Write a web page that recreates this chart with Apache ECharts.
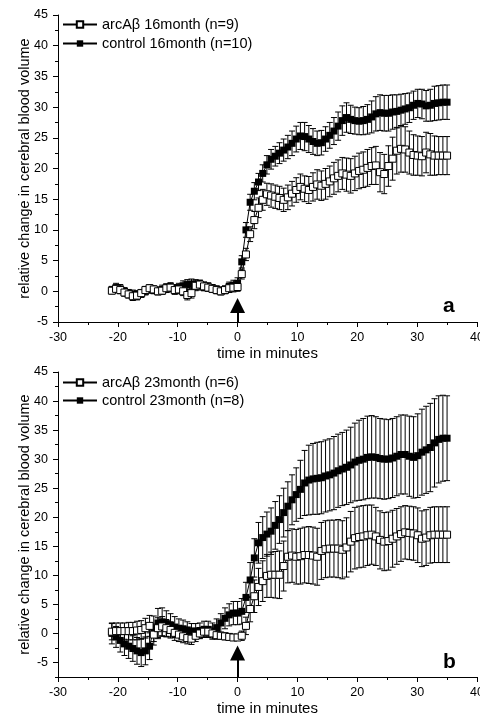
<!DOCTYPE html>
<html><head><meta charset="utf-8">
<script src="https://cdn.jsdelivr.net/npm/echarts@6/dist/echarts.min.js"></script>
<style>html,body{margin:0;padding:0;background:#fff;} #wrap{width:480px;height:717px;overflow:hidden;} #chart{width:487px;height:717px;}</style>
</head><body><div id="wrap"><div id="chart"></div></div>
<script>
// time points (minutes)
const time = [-21,-20.3,-19.6,-18.9,-18.2,-17.5,-16.8,-16.1,-15.4,-14.7,
 -14,-13.3,-12.6,-11.9,-11.2,-10.5,-9.8,-9.1,-8.4,-7.7,
 -7,-6.3,-5.6,-4.9,-4.2,-3.5,-2.8,-2.1,-1.4,-0.7,
 0,0.7,1.4,2.1,2.8,3.5,4.2,4.9,5.6,6.3,
 7,7.7,8.4,9.1,9.8,10.5,11.2,11.9,12.6,13.3,
 14,14.7,15.4,16.1,16.8,17.5,18.2,18.9,19.6,20.3,
 21,21.7,22.4,23.1,23.8,24.5,25.2,25.9,26.6,27.3,
 28,28.7,29.4,30.1,30.8,31.5,32.2,32.9,33.6,34.3,
 35];

// panel a: 16 month
const ctlA = [0.2,0.6,0.4,0.0,-0.3,-0.5,-0.6,-0.4,0.0,0.3,
 0.2,0.1,0.3,0.5,0.7,0.4,0.6,0.9,1.1,1.2,
 1.1,1.0,0.8,0.7,0.5,0.3,0.1,0.3,0.8,1.0,
 1.3,4.8,10.0,14.5,16.3,17.8,19.2,20.6,21.5,22.0,
 22.5,23.0,23.5,24.1,24.8,25.3,25.2,24.8,24.4,24.1,
 24.2,24.8,25.4,26.1,26.9,27.8,28.3,28.0,27.8,27.7,
 27.8,28.0,28.4,28.9,29.1,29.0,29.0,29.2,29.3,29.5,
 29.7,29.9,30.3,30.6,30.5,30.2,30.3,30.6,30.7,30.8,
 30.8];
const ctlAErr = [0.6,0.7,0.7,0.6,0.6,0.7,0.7,0.6,0.6,0.6,
 0.6,0.6,0.7,0.7,0.7,0.7,0.7,0.8,0.8,0.8,
 0.8,0.8,0.7,0.7,0.6,0.6,0.6,0.6,0.7,0.8,
 0.9,1.0,1.2,1.3,1.4,1.4,1.4,1.5,1.6,1.6,
 1.7,1.8,1.9,2.0,2.1,2.2,2.3,2.2,2.1,2.0,
 2.0,2.0,2.1,2.2,2.3,2.4,2.4,2.3,2.2,2.2,
 2.3,2.4,2.6,2.8,2.9,2.9,2.9,2.8,2.7,2.6,
 2.5,2.4,2.3,2.3,2.4,2.5,2.6,2.8,2.8,2.8,
 2.8];
const arcA = [0.1,0.4,0.2,-0.2,-0.5,-0.8,-0.7,-0.3,0.2,0.5,
 0.3,0.0,0.1,0.5,0.6,0.2,0.3,0.0,-0.6,-0.3,
 0.9,1.1,0.8,0.6,0.4,0.2,0.0,0.2,0.5,0.6,
 0.7,2.8,6.0,9.3,11.6,13.6,14.9,15.8,15.6,15.4,
 15.2,14.9,15.3,15.9,16.5,17.0,16.7,16.5,17.0,17.4,
 17.2,17.5,17.9,18.4,18.8,19.2,19.0,18.8,19.2,19.6,
 19.8,20.1,20.4,20.5,19.4,19.1,20.4,21.6,22.9,23.2,
 23.1,22.6,22.2,22.1,22.0,22.6,22.3,22.1,22.1,22.1,
 22.1];
const arcAErr = [0.5,0.6,0.6,0.6,0.6,0.7,0.7,0.6,0.6,0.6,
 0.6,0.6,0.6,0.7,0.7,0.7,0.7,0.7,0.8,0.8,
 0.8,0.7,0.7,0.6,0.6,0.6,0.6,0.6,0.7,0.7,
 0.7,0.8,1.0,1.2,1.4,1.6,1.7,1.8,1.9,1.9,
 1.9,1.9,2.0,2.0,2.0,2.1,2.1,2.2,2.3,2.4,
 2.4,2.5,2.5,2.6,2.6,2.6,2.7,2.8,2.8,2.9,
 2.9,3.0,3.0,3.1,3.2,3.2,3.3,3.5,3.8,3.8,
 3.7,3.5,3.3,3.2,3.2,3.3,3.4,3.2,3.1,3.1,
 3.1];

// panel b: 23 month
const ctlB = [0.0,-0.6,-1.2,-1.8,-2.2,-2.6,-3.0,-3.3,-3.0,-2.2,
 0.8,1.8,2.0,1.7,1.4,1.1,0.9,0.8,0.6,0.4,
 0.4,0.5,0.7,0.7,0.4,1.0,1.8,2.6,3.2,3.5,
 3.5,3.8,6.2,9.2,13.0,15.6,16.5,17.1,17.6,18.6,
 19.6,20.8,21.9,23.0,23.9,24.8,25.9,26.4,26.6,26.7,
 26.8,27.1,27.3,27.6,28.0,28.3,28.6,29.0,29.5,29.8,
 30.0,30.3,30.4,30.3,30.1,30.0,30.0,30.2,30.5,30.8,
 30.8,30.5,30.3,30.6,31.2,31.6,32.0,32.8,33.4,33.6,
 33.6];
const ctlBErr = [1.8,1.8,2.0,2.0,2.1,2.2,2.3,2.4,2.4,2.3,
 2.2,2.5,2.4,2.2,2.0,1.8,1.6,1.5,1.4,1.3,
 1.3,1.3,1.4,1.4,1.4,1.5,1.6,1.8,1.9,2.0,
 2.0,2.2,2.6,3.0,3.3,3.5,3.6,3.8,4.0,4.1,
 4.1,4.2,4.2,4.3,4.6,5.0,5.6,6.0,6.1,6.2,
 6.2,6.2,6.2,6.3,6.3,6.3,6.4,6.5,6.7,6.9,
 7.0,7.1,7.1,7.0,6.9,6.9,6.8,6.8,6.8,6.8,
 6.8,6.9,7.0,7.2,7.4,7.5,7.6,7.6,7.5,7.4,
 7.3];
const arcB = [0.3,0.4,0.4,0.4,0.4,0.4,0.5,0.6,0.9,1.3,
 -0.2,0.9,1.2,0.9,0.6,0.1,-0.2,-0.5,-0.8,-0.9,
 -0.4,0.0,0.3,0.3,0.0,-0.3,-0.4,-0.5,-0.6,-0.7,
 -0.7,-0.4,1.3,4.2,6.4,8.0,9.0,9.9,10.1,10.1,
 10.1,11.6,13.2,13.4,13.2,13.3,13.5,13.5,13.4,13.2,
 14.2,14.5,14.6,14.6,14.6,14.4,14.8,15.8,16.4,16.6,
 16.7,16.9,17.0,16.7,16.1,15.8,15.9,16.3,16.7,17.1,
 17.4,17.3,17.2,16.9,16.3,16.5,16.9,17.0,17.0,17.0,
 17.0];
const arcBErr = [1.4,1.4,1.4,1.4,1.5,1.5,1.6,1.6,1.7,1.8,
 1.8,1.8,1.7,1.5,1.4,1.3,1.2,1.1,1.0,1.0,
 1.0,0.9,0.9,0.8,0.8,0.7,0.6,0.6,0.5,0.5,
 0.5,0.8,1.5,2.2,2.8,3.2,3.5,3.7,3.9,4.0,
 4.1,4.3,4.5,4.6,4.7,4.8,4.8,4.9,4.9,4.9,
 4.9,4.9,4.9,4.9,5.0,5.0,5.1,5.2,5.3,5.3,
 5.3,5.2,5.1,5.0,5.0,5.0,5.0,4.9,4.8,4.7,
 4.6,4.6,4.6,4.7,4.8,4.8,4.8,4.8,4.8,4.8,
 4.8];

const namesA = ['arcA\u03b2 16month (n=9)', 'control 16month (n=10)'];
const namesB = ['arcA\u03b2 23month (n=6)', 'control 23month (n=8)'];
const xTicks = [-30,-20,-10,0,10,20,30,40];
const yTicks = [-5,0,5,10,15,20,25,30,35,40,45];
const panelLetters = ['a','b'];

const FONT = 'Liberation Sans, Arial, sans-serif';
const chart = echarts.init(document.getElementById('chart'), null, {renderer:'canvas'});

function errRender(params, api){
  const x = api.value(0), lo = api.value(1), hi = api.value(2);
  const pLo = api.coord([x, lo]), pHi = api.coord([x, hi]);
  const w = 3;
  const style = {stroke:'#000', lineWidth:1, fill:null};
  return {type:'group', children:[
    {type:'line', shape:{x1:pLo[0], y1:pLo[1], x2:pHi[0], y2:pHi[1]}, style},
    {type:'line', shape:{x1:pHi[0]-w, y1:pHi[1], x2:pHi[0]+w, y2:pHi[1]}, style},
    {type:'line', shape:{x1:pLo[0]-w, y1:pLo[1], x2:pLo[0]+w, y2:pLo[1]}, style}
  ]};
}

function xAxis(g){
  return {type:'value', gridIndex:g, min:-30, max:40, interval:10,
    axisLine:{show:true, onZero:false, lineStyle:{color:'#000', width:1}},
    axisTick:{show:true, length:5, lineStyle:{color:'#000'}},
    minorTick:{show:true, splitNumber:2, length:3, lineStyle:{color:'#000'}},
    splitLine:{show:false},
    axisLabel:{color:'#000', fontSize:12.5, margin:9, fontFamily:FONT, customValues:xTicks},
    name:'time in minutes', nameLocation:'middle', nameGap:24, nameMoveOverlap:false,
    nameTextStyle:{fontSize:15, color:'#000', fontFamily:FONT}};
}
const yName = 'relative change in cerebral blood volume';

function errSeries(g, yi, v, e){
  return {type:'custom', xAxisIndex:g, yAxisIndex:yi, renderItem:errRender, silent:true,
    data: time.map((t,i)=>[t, v[i]-e[i], v[i]+e[i]]), encode:{x:0, y:[1,2]}, z:1};
}
function lineSeries(g, yi, name, v, open){
  return {type:'line', name, xAxisIndex:g, yAxisIndex:yi, data: time.map((t,i)=>[t, v[i]]),
    symbol:'rect', symbolSize:7, showAllSymbol:true, silent:true,
    lineStyle:{color:'#000', width:1},
    itemStyle: open ? {color:'#fff', borderColor:'#000', borderWidth:1} : {color:'#000', borderColor:'#000', borderWidth:0},
    z: open ? 4 : 3};
}
function arrow(tipCenter, base){
  return {silent:true, symbol:['none','triangle'], symbolSize:15, animation:false,
    lineStyle:{color:'#000', width:2, type:'solid'}, label:{show:false},
    data:[[{coord:[0, base]}, {coord:[0, tipCenter]}]]};
}

const ctlLineA = lineSeries(0, 0, namesA[1], ctlA, false);
ctlLineA.markLine = arrow(-2.3, -5);
const ctlLineB = lineSeries(1, 1, namesB[1], ctlB, false);
ctlLineB.markLine = arrow(-3.35, -7.5);

const legendCommon = {orient:'vertical', left:62, itemWidth:34, itemHeight:8, padding:0, selectedMode:false,
  textStyle:{fontSize:14.5, color:'#000', fontFamily:FONT, lineHeight:15}};

const yNameStyle = {fontSize:14.5, color:'#000', fontFamily:FONT, lineHeight:13};

const option = {
  animation:false,
  backgroundColor:'#fff',
  grid:[{left:58, top:15, width:419, height:307}, {left:58, top:372, width:419, height:307}],
  xAxis:[xAxis(0), xAxis(1)],
  yAxis:[
    {type:'value', gridIndex:0, min:-5, max:45, interval:5, position:'left',
      axisLine:{show:true, onZero:false, lineStyle:{color:'#000'}},
      axisTick:{show:true, length:5, lineStyle:{color:'#000'}},
      minorTick:{show:true, splitNumber:2, length:3, lineStyle:{color:'#000'}},
      splitLine:{show:false},
      axisLabel:{color:'#000', fontSize:12.5, margin:10, fontFamily:FONT},
      name:yName, nameLocation:'middle', nameGap:27, nameMoveOverlap:false,
      nameTextStyle:yNameStyle},
    {type:'value', gridIndex:1, min:-7.5, max:45, position:'left',
      axisLine:{show:true, onZero:false, lineStyle:{color:'#000'}},
      axisTick:{show:true, length:5, lineStyle:{color:'#000'}, customValues:yTicks},
      splitLine:{show:false},
      axisLabel:{color:'#000', fontSize:12.5, margin:10, fontFamily:FONT, customValues:yTicks},
      name:yName, nameLocation:'middle', nameGap:27, nameMoveOverlap:false,
      nameTextStyle:yNameStyle},
    {type:'value', gridIndex:1, min:-7.5, max:45, interval:2.5, position:'left', offset:0,
      axisLine:{show:false, onZero:false}, axisLabel:{show:false}, splitLine:{show:false},
      axisTick:{show:true, length:3, lineStyle:{color:'#000'}}}
  ],
  legend:[
    Object.assign({}, legendCommon, {top:17, itemGap:4, data:namesA}),
    Object.assign({}, legendCommon, {top:375, itemGap:3, data:namesB})
  ],
  title:[
    {text:panelLetters[0], left:443, top:296, padding:0, textStyle:{fontSize:21, fontWeight:'bold', color:'#000', fontFamily:FONT}},
    {text:panelLetters[1], left:443, top:652, padding:0, textStyle:{fontSize:21, fontWeight:'bold', color:'#000', fontFamily:FONT}}
  ],
  series:[
    errSeries(0, 0, ctlA, ctlAErr),
    errSeries(0, 0, arcA, arcAErr),
    ctlLineA,
    lineSeries(0, 0, namesA[0], arcA, true),
    errSeries(1, 1, ctlB, ctlBErr),
    errSeries(1, 1, arcB, arcBErr),
    ctlLineB,
    lineSeries(1, 1, namesB[0], arcB, true)
  ]
};
chart.setOption(option);
</script>
</body></html>
